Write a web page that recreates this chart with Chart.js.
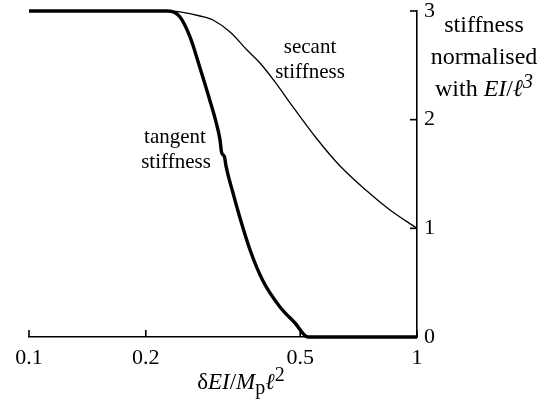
<!DOCTYPE html>
<html>
<head>
<meta charset="utf-8">
<script src="https://cdn.jsdelivr.net/npm/chart.js@4.4.0/dist/chart.umd.min.js"></script>
<style>
  html, body { margin: 0; padding: 0; background: #fff; }
</style>
</head>
<body>
<canvas id="chart" width="545" height="401"></canvas>
<script>
/* ---------- data ---------- */
const xTicks = [0.1, 0.2, 0.5, 1];
const yTicks = [0, 1, 2, 3];

const tangentX = [0.1, 0.2282, 0.2450, 0.2600, 0.2759, 0.2928, 0.3034, 0.3107, 0.3135, 0.3191, 0.3219, 0.3356, 0.3498, 0.3713, 0.4010, 0.4435, 0.4848, 0.5238, 1];
const tangentY = [3, 3, 2.945, 2.761, 2.475, 2.172, 1.978, 1.813, 1.702, 1.656, 1.574, 1.325, 1.095, 0.801, 0.515, 0.276, 0.129, 0, 0];

const secantX = [0.1, 0.2282, 0.2450, 0.2759, 0.2981, 0.3297, 0.3647, 0.3939, 0.4305, 0.4790, 0.5524, 0.6333, 0.7432, 0.8520, 1];
const secantY = [3, 3, 2.991, 2.954, 2.917, 2.807, 2.641, 2.521, 2.347, 2.117, 1.822, 1.574, 1.343, 1.169, 1.0];

const FONT = '"Liberation Serif", "Times New Roman", serif';

/* ---------- helpers ---------- */
function toPoints(xs, ys) {
  return xs.map((x, i) => ({ x, y: ys[i] }));
}

// draws a line of mixed text segments centred on cx
function richText(ctx, segs, cx, cy, size) {
  const fontOf = s => `${s.italic ? 'italic ' : ''}${Math.round(size * (s.scale || 1))}px ${FONT}`;
  let total = 0;
  segs.forEach(s => { ctx.font = fontOf(s); s.w = ctx.measureText(s.t).width; total += s.w; });
  let x = cx - total / 2;
  ctx.textAlign = 'left';
  ctx.textBaseline = 'middle';
  segs.forEach(s => {
    ctx.font = fontOf(s);
    ctx.fillText(s.t, x, cy + (s.dy || 0));
    x += s.w;
  });
}

/* ---------- plugin: inward ticks, titles, curve labels ---------- */
const decorations = {
  id: 'decorations',
  afterDraw(chart) {
    const { ctx, scales: { x, y } } = chart;
    ctx.save();
    ctx.strokeStyle = '#000';
    ctx.fillStyle = '#000';
    ctx.lineWidth = 1.6;

    // tick marks point into the plot
    xTicks.forEach(v => {
      const px = x.getPixelForValue(v);
      ctx.beginPath(); ctx.moveTo(px, y.bottom); ctx.lineTo(px, y.bottom - 7); ctx.stroke();
    });
    yTicks.forEach(v => {
      const py = y.getPixelForValue(v);
      ctx.beginPath(); ctx.moveTo(x.right, py); ctx.lineTo(x.right - 7, py); ctx.stroke();
    });

    // x title: δEI/Mpℓ2
    richText(ctx, [
      { t: 'δ' }, { t: 'EI', italic: true }, { t: '/' }, { t: 'M', italic: true },
      { t: 'p', scale: 0.85, dy: 6 }, { t: 'ℓ', italic: true }, { t: '2', scale: 0.85, dy: -7 }
    ], 241, 383, 23);

    // y title at right
    richText(ctx, [{ t: 'stiffness' }], 484, 26, 24);
    richText(ctx, [{ t: 'normalised' }], 484, 58, 24);
    richText(ctx, [
      { t: 'with ' }, { t: 'EI', italic: true }, { t: '/' }, { t: 'ℓ', italic: true },
      { t: '3', italic: true, scale: 0.85, dy: -7 }
    ], 484, 90, 24);

    // curve labels
    richText(ctx, [{ t: 'secant' }], 310, 47, 21);
    richText(ctx, [{ t: 'stiffness' }], 310, 72, 21);
    richText(ctx, [{ t: 'tangent' }], 175, 137, 21);
    richText(ctx, [{ t: 'stiffness' }], 176, 162, 21);

    ctx.restore();
  }
};

/* ---------- chart ---------- */
new Chart(document.getElementById('chart'), {
  type: 'line',
  data: {
    datasets: [
      {
        label: 'tangent stiffness',
        data: toPoints(tangentX, tangentY),
        borderColor: '#000', borderWidth: 3.4,
        pointRadius: 0, cubicInterpolationMode: 'monotone', clip: false
      },
      {
        label: 'secant stiffness',
        data: toPoints(secantX, secantY),
        borderColor: '#000', borderWidth: 1.3,
        pointRadius: 0, tension: 0.35, clip: false
      }
    ]
  },
  options: {
    responsive: false,
    animation: false,
    devicePixelRatio: 1,
    layout: { padding: { left: 29, top: 11, right: 0, bottom: 0 } },
    plugins: { legend: { display: false }, tooltip: { enabled: false } },
    scales: {
      x: {
        type: 'logarithmic', min: 0.1, max: 1,
        afterBuildTicks: s => { s.ticks = xTicks.map(v => ({ value: v })); },
        afterFit: s => { s.height = 64; s.paddingLeft = 0; s.paddingRight = 0; },
        ticks: {
          callback: v => String(v), autoSkip: false, maxRotation: 0,
          font: { family: FONT, size: 22 }, color: '#000', padding: 8
        },
        grid: { drawOnChartArea: false, drawTicks: false },
        border: { display: true, color: '#000', width: 1.6 }
      },
      y: {
        position: 'right', min: 0, max: 3,
        afterBuildTicks: s => { s.ticks = yTicks.map(v => ({ value: v })); },
        afterFit: s => { s.width = 128; s.paddingTop = 0; s.paddingBottom = 0; },
        ticks: {
          font: { family: FONT, size: 22 }, color: '#000', padding: 7
        },
        grid: { drawOnChartArea: false, drawTicks: false },
        border: { display: true, color: '#000', width: 1.6 }
      }
    }
  },
  plugins: [decorations]
});
</script>
</body>
</html>
